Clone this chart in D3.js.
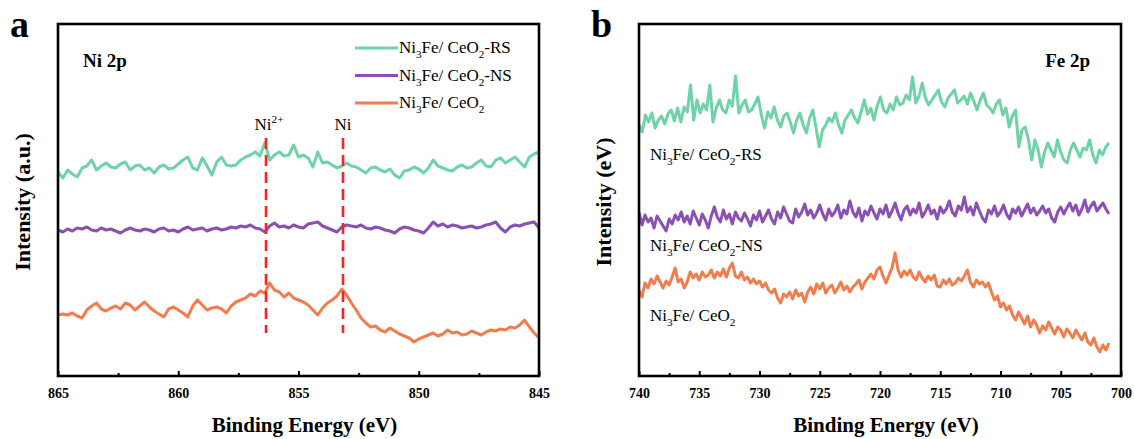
<!DOCTYPE html>
<html>
<head>
<meta charset="utf-8">
<script src="https://cdn.jsdelivr.net/npm/d3@7"></script>
<style>
  body { margin: 0; background: #fff; }
  svg { display: block; font-family: "Liberation Serif", "Times New Roman", serif; }
</style>
</head>
<body>
<div id="app"></div>
<script>
const width = 1134;
const height = 439;

// legend / series labels, split into [text, "sub"|"sup"|null] pieces
const seriesLabels = [
  [["Ni"], ["3", "sub"], ["Fe/ CeO"], ["2", "sub"], ["-RS"]],
  [["Ni"], ["3", "sub"], ["Fe/ CeO"], ["2", "sub"], ["-NS"]],
  [["Ni"], ["3", "sub"], ["Fe/ CeO"], ["2", "sub"]],
];
const seriesColors = ["#6fd3a7", "#8b50b5", "#f07e4c"];

// ---- panel a: Ni 2p (865 -> 845 eV) ----
const niEnergy = [865, 845];
const niTicks = [865, 860, 855, 850, 845];
const niMinor = [862.5, 857.5, 852.5, 847.5];
const niPeaks = [856.35, 853.15];
const niPeakLabels = [[["Ni"], ["2+", "sup"]], [["Ni"]]];
const niRS = [228, 222, 230, 226, 223, 232, 234, 240, 230, 234, 237, 233, 232, 236, 238, 230, 234, 235, 230, 232,
  227, 233, 235, 231, 232, 236, 240, 243, 232, 230, 242, 234, 225, 238, 243, 235, 234, 235, 240, 243,
  245, 248, 244, 257, 240, 245, 248, 244, 245, 255, 243, 245, 242, 233, 248, 237, 238, 235, 232, 234,
  237, 234, 233, 230, 227, 232, 233, 230, 228, 231, 225, 222, 229, 230, 233, 231, 227, 232, 240, 234,
  232, 230, 229, 233, 235, 232, 233, 237, 240, 234, 233, 240, 242, 237, 240, 243, 238, 233, 243, 246, 248];
const niNS = [170, 168, 171, 169, 172, 171, 173, 170, 169, 172, 170, 171, 169, 167, 170, 172, 170, 169, 171, 170,
  168, 171, 172, 169, 170, 168, 171, 173, 170, 171, 172, 169, 171, 172, 170, 171, 173, 172, 174, 173,
  175, 172, 171, 168, 174, 177, 173, 174, 172, 175, 173, 172, 176, 177, 178, 174, 172, 170, 168, 173,
  175, 174, 173, 175, 172, 171, 173, 172, 170, 169, 167, 171, 173, 172, 170, 169, 167, 172, 178, 174,
  176, 173, 175, 174, 172, 173, 174, 172, 173, 175, 176, 178, 172, 168, 173, 175, 174, 176, 177, 178, 172];
const niBare = [85, 86, 85, 87, 84, 82, 90, 94, 97, 91, 89, 92, 94, 91, 97, 95, 90, 94, 98, 93,
  89, 86, 83, 91, 93, 90, 87, 83, 94, 100, 95, 90, 92, 93, 91, 87, 94, 98, 100, 102,
  106, 104, 109, 107, 117, 110, 108, 103, 107, 102, 100, 98, 95, 90, 85, 92, 97, 100, 104, 111,
  105, 97, 90, 82, 77, 73, 74, 70, 68, 72, 69, 66, 64, 62, 58, 61, 63, 65, 67, 64,
  66, 70, 67, 68, 65, 66, 69, 67, 65, 68, 70, 69, 71, 70, 73, 72, 75, 80, 73, 67, 62];

// ---- panel b: Fe 2p (740 -> 701 eV) ----
const feEnergy = [740, 701];
const feTicks = [740, 735, 730, 725, 720, 715, 710, 705, 700];
const feMinor = [737.5, 732.5, 727.5, 722.5, 717.5, 712.5, 707.5, 702.5];
const feRS = [275, 268, 285, 278, 287, 272, 280, 284, 276, 286, 290, 279, 292, 278, 293, 288, 315, 280, 300, 287,
  296, 290, 315, 278, 292, 300, 290, 287, 300, 294, 324, 287, 295, 300, 288, 290, 296, 303, 285, 272,
  288, 282, 293, 280, 273, 284, 287, 278, 267, 280, 287, 275, 267, 282, 290, 272, 253, 270, 275, 282,
  278, 287, 275, 267, 280, 285, 290, 282, 277, 288, 300, 286, 292, 280, 294, 303, 290, 287, 296, 290,
  303, 295, 297, 305, 300, 323, 297, 304, 317, 302, 295, 300, 305, 310, 298, 293, 302, 306, 310, 297,
  300, 304, 296, 307, 299, 290, 300, 307, 295, 292, 287, 296, 300, 285, 292, 273, 284, 290, 253, 270,
  273, 260, 240, 260, 250, 233, 248, 257, 250, 243, 260, 248, 240, 237, 250, 257, 250, 243, 252, 250,
  260, 245, 237, 250, 245, 253, 257];
const feNS = [188, 175, 185, 178, 182, 172, 184, 179, 174, 169, 181, 176, 185, 180, 188, 178, 184, 176, 189, 182,
  175, 186, 180, 172, 184, 193, 183, 178, 190, 181, 186, 176, 188, 182, 179, 187, 181, 174, 185, 180,
  189, 178, 184, 190, 181, 176, 188, 182, 193, 186, 179, 177, 191, 183, 188, 196, 185, 190, 182, 187,
  195, 186, 180, 191, 184, 188, 195, 182, 190, 186, 199, 188, 183, 192, 179, 189, 185, 194, 187, 181,
  191, 186, 195, 183, 189, 197, 187, 180, 190, 194, 185, 191, 187, 197, 183, 188, 195, 186, 190, 181,
  193, 187, 191, 199, 188, 184, 194, 190, 203, 188, 193, 185, 197, 189, 182, 178, 190, 186, 194, 184,
  188, 195, 186, 181, 191, 187, 193, 184, 190, 196, 187, 192, 185, 189, 194, 187, 191, 182, 178, 188,
  193, 186, 192, 197, 189, 195, 185, 191, 200, 188, 194, 198, 189, 193, 197, 191, 186];
const feBare = [110, 103, 117, 112, 121, 116, 124, 118, 112, 119, 115, 123, 132, 118, 121, 112, 118, 128, 122, 126,
  120, 128, 123, 125, 130, 122, 128, 124, 131, 123, 132, 137, 124, 122, 128, 120, 123, 117, 121, 116,
  119, 113, 117, 110, 107, 111, 102, 97, 106, 103, 108, 101, 110, 104, 107, 98, 108, 113, 106, 116,
  111, 117, 107, 112, 115, 107, 112, 118, 110, 114, 108, 113, 116, 120, 111, 118, 122, 126, 121, 130,
  133, 124, 117, 125, 132, 147, 130, 123, 129, 125, 130, 123, 120, 128, 122, 118, 124, 120, 125, 114,
  113, 120, 116, 121, 115, 117, 122, 119, 124, 130, 118, 113, 120, 116, 118, 113, 117, 108, 100, 104,
  93, 97, 90, 94, 85, 80, 88, 82, 76, 84, 73, 80, 75, 67, 74, 70, 78, 72, 66, 73,
  70, 63, 71, 67, 62, 70, 65, 60, 67, 58, 55, 62, 53, 48, 55, 50, 57];
const feLabelY = [245, 154, 84]; // intensity level of each in-plot series label

const plotTop = 24;
const plotBottom = 376;
const serif = '"Liberation Serif", "Times New Roman", serif';

const svg = d3.select("#app").append("svg")
  .attr("width", width)
  .attr("height", height)
  .attr("viewBox", `0 0 ${width} ${height}`);

const yScale = d3.scaleLinear().domain([24, 376]).range([plotBottom, plotTop]);

// subscripts / superscripts with px offsets
function richText(sel, parts, size) {
  let prev = 0;
  parts.forEach(([t, kind]) => {
    const off = kind === "sub" ? size * 0.3 : kind === "sup" ? -size * 0.42 : 0;
    sel.append("tspan")
      .attr("dy", off - prev)
      .style("font-size", kind ? `${size * 0.66}px` : `${size}px`)
      .text(t);
    prev = off;
  });
}

function drawPanel(p) {
  const xScale = d3.scaleLinear().domain(p.domain).range([p.left, p.right]);
  const g = svg.append("g");

  const line = d3.line()
    .x((d) => xScale(d[0]))
    .y((d) => yScale(d[1]));

  p.series.forEach((vals, k) => {
    const n = vals.length;
    const pts = vals.map((v, i) => [p.energy[0] + (i * (p.energy[1] - p.energy[0])) / (n - 1), v]);
    g.append("path")
      .datum(pts)
      .attr("fill", "none")
      .attr("stroke", seriesColors[k])
      .attr("stroke-width", 3)
      .attr("stroke-linejoin", "round")
      .attr("d", line);
  });

  const axis = g.append("g")
    .attr("transform", `translate(0, ${plotBottom})`)
    .call(d3.axisBottom(xScale)
      .tickValues(p.ticks)
      .tickSizeInner(-5)
      .tickSizeOuter(0)
      .tickPadding(12)
      .tickFormat(d3.format("d")));
  axis.select(".domain").remove();
  axis.selectAll("line").attr("stroke", "#000").attr("stroke-width", 2);
  axis.selectAll("text")
    .attr("fill", "#000")
    .style("font-family", serif)
    .style("font-size", "14px")
    .style("font-weight", "bold");

  const minor = g.append("g")
    .attr("transform", `translate(0, ${plotBottom})`)
    .call(d3.axisBottom(xScale).tickValues(p.minor).tickSizeInner(-3).tickSizeOuter(0).tickFormat(""));
  minor.select(".domain").remove();
  minor.selectAll("line").attr("stroke", "#000").attr("stroke-width", 2);

  g.append("rect")
    .attr("x", p.left)
    .attr("y", plotTop)
    .attr("width", p.right - p.left)
    .attr("height", plotBottom - plotTop)
    .attr("fill", "none")
    .attr("stroke", "#000")
    .attr("stroke-width", 2.6);

  g.append("text")
    .attr("x", (p.left + p.right) / 2 + 6)
    .attr("y", 432)
    .attr("text-anchor", "middle")
    .style("font-size", "21px")
    .style("font-weight", "bold")
    .text("Binding Energy (eV)");

  g.append("text")
    .attr("transform", `translate(${p.left - 28}, 202) rotate(-90)`)
    .attr("text-anchor", "middle")
    .style("font-size", "22px")
    .style("font-weight", "bold")
    .text(p.yTitle);

  g.append("text")
    .attr("x", p.left - 48)
    .attr("y", 37)
    .style("font-size", "38px")
    .style("font-weight", "bold")
    .text(p.letter);

  g.append("text")
    .attr("x", p.titleX)
    .attr("y", 67)
    .attr("text-anchor", p.titleAnchor)
    .style("font-size", "19px")
    .style("font-weight", "bold")
    .text(p.title);

  return { g, xScale };
}

// panel a
const a = drawPanel({
  domain: [865, 845], left: 58, right: 539, energy: niEnergy,
  ticks: niTicks, minor: niMinor, series: [niRS, niNS, niBare],
  yTitle: "Intensity (a.u.)", letter: "a", title: "Ni 2p", titleX: 83, titleAnchor: "start",
});

// reference lines for Ni2+ and Ni
niPeaks.forEach((e, i) => {
  a.g.append("line")
    .attr("x1", a.xScale(e)).attr("x2", a.xScale(e))
    .attr("y1", yScale(262)).attr("y2", yScale(67))
    .attr("stroke", "#ff2020")
    .attr("stroke-width", 2.6)
    .attr("stroke-dasharray", "11,6");
  const t = a.g.append("text")
    .attr("x", a.xScale(e) + (i === 0 ? 3 : 0))
    .attr("y", 130)
    .attr("text-anchor", "middle");
  richText(t, niPeakLabels[i], 17);
});

// legend
const legend = a.g.append("g");
seriesLabels.forEach((lab, k) => {
  const ly = 48 + k * 27.5;
  legend.append("line")
    .attr("x1", 355).attr("x2", 398)
    .attr("y1", ly).attr("y2", ly)
    .attr("stroke", seriesColors[k])
    .attr("stroke-width", 3);
  const t = legend.append("text").attr("x", 399).attr("y", ly + 5);
  richText(t, lab, 17);
});

// panel b
const b = drawPanel({
  domain: [740, 700], left: 639, right: 1121, energy: feEnergy,
  ticks: feTicks, minor: feMinor, series: [feRS, feNS, feBare],
  yTitle: "Intensity (eV)", letter: "b", title: "Fe 2p", titleX: 1090, titleAnchor: "end",
});

seriesLabels.forEach((lab, k) => {
  const t = b.g.append("text").attr("x", 650).attr("y", yScale(feLabelY[k]) + 5);
  richText(t, lab, 17);
});
</script>
</body>
</html>
